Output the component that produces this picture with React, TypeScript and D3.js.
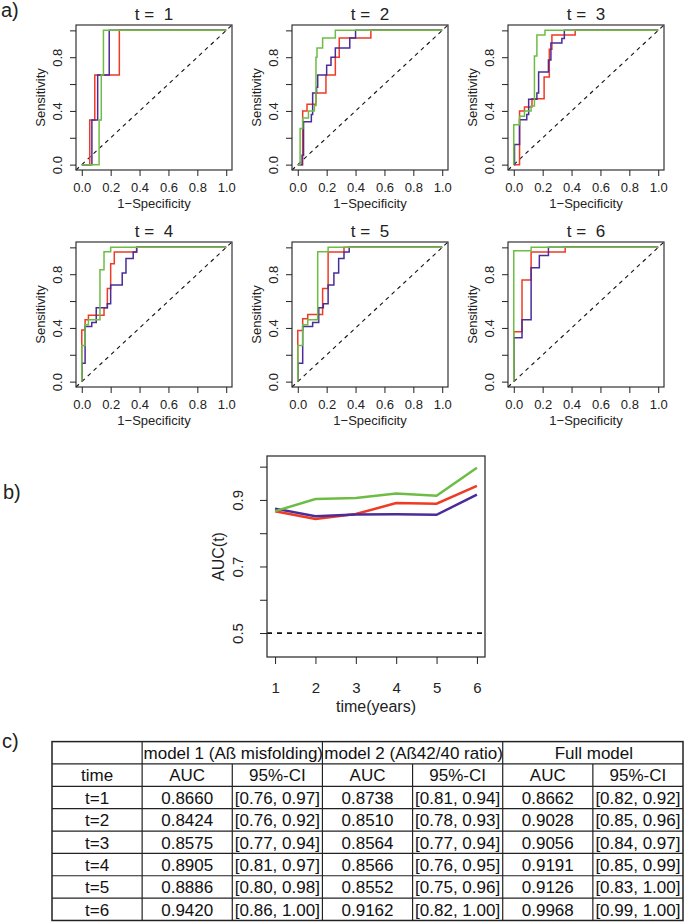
import * as d3 from "d3";
import React, { useRef, useEffect } from "react";

// time points (years)
const years = [1, 2, 3, 4, 5, 6];

// AUC(t) per model
const aucModel1 = [0.866, 0.8424, 0.8575, 0.8905, 0.8886, 0.942];
const aucModel2 = [0.8738, 0.851, 0.8564, 0.8566, 0.8552, 0.9162];
const aucFull = [0.8662, 0.9028, 0.9056, 0.9191, 0.9126, 0.9968];

const ciModel1 = ["[0.76, 0.97]", "[0.76, 0.92]", "[0.77, 0.94]", "[0.81, 0.97]", "[0.80, 0.98]", "[0.86, 1.00]"];
const ciModel2 = ["[0.81, 0.94]", "[0.78, 0.93]", "[0.77, 0.94]", "[0.76, 0.95]", "[0.75, 0.96]", "[0.82, 1.00]"];
const ciFull = ["[0.82, 0.92]", "[0.85, 0.96]", "[0.84, 0.97]", "[0.85, 0.99]", "[0.83, 1.00]", "[0.99, 1.00]"];

const modelNames = ["model 1 (Aß misfolding)", "model 2 (Aß42/40 ratio)", "Full model"];
const subHeads = ["AUC", "95%-CI"];

const rocTicks = [0, 0.2, 0.4, 0.6, 0.8, 1];
const rocLabelled = [0, 0.4, 0.8];
const aucTicks = [0.5, 0.6, 0.7, 0.8, 0.9, 1];
const aucLabelled = [0.5, 0.7, 0.9];

// ROC staircases: [1-specificity where the step happens, new sensitivity]
const rocModel1 = [
  [[0, 0], [0.055, 0.333], [0.09, 0.667], [0.26, 1], [1, 1]],
  [[0, 0], [0.034, 0.4], [0.064, 0.45], [0.126, 0.533], [0.195, 0.667], [0.26, 0.8], [0.287, 0.944], [0.506, 1], [1, 1]],
  [[0, 0], [0.04, 0.4], [0.074, 0.43], [0.126, 0.49], [0.21, 0.652], [0.246, 0.86], [0.264, 0.965], [0.425, 1], [1, 1]],
  [[0, 0], [0, 0.385], [0.023, 0.46], [0.046, 0.494], [0.154, 0.55], [0.177, 0.694], [0.2, 0.878], [0.225, 0.965], [0.38, 1], [1, 1]],
  [[0, 0], [0, 0.38], [0.034, 0.468], [0.069, 0.5], [0.172, 0.694], [0.21, 0.965], [0.32, 1], [1, 1]],
  [[0, 0], [0, 0.372], [0.057, 0.757], [0.12, 0.965], [0.356, 1], [1, 1]],
];
const rocModel2 = [
  [[0, 0], [0.07, 0.333], [0.11, 0.667], [0.19, 1], [1, 1]],
  [[0, 0], [0.03, 0.07], [0.04, 0.32], [0.094, 0.373], [0.103, 0.533], [0.13, 0.576], [0.138, 0.667], [0.2, 0.74], [0.23, 0.8], [0.26, 0.868], [0.36, 0.944], [0.4, 1], [1, 1]],
  [[0, 0], [0.005, 0.15], [0.04, 0.335], [0.09, 0.373], [0.103, 0.487], [0.16, 0.533], [0.172, 0.69], [0.24, 0.78], [0.257, 0.906], [0.333, 0.94], [0.35, 1], [1, 1]],
  [[0, 0], [0, 0.137], [0.023, 0.41], [0.069, 0.44], [0.1, 0.55], [0.177, 0.58], [0.2, 0.72], [0.28, 0.81], [0.306, 0.917], [0.356, 0.965], [0.38, 1], [1, 1]],
  [[0, 0], [0, 0.137], [0.034, 0.41], [0.103, 0.44], [0.145, 0.55], [0.177, 0.58], [0.21, 0.72], [0.25, 0.81], [0.283, 0.917], [0.32, 0.965], [0.356, 1], [1, 1]],
  [[0, 0], [0, 0.327], [0.057, 0.46], [0.12, 0.848], [0.177, 0.94], [0.24, 1], [1, 1]],
];
const rocFull = [
  [[0, 0], [0.12, 0.333], [0.135, 0.667], [0.15, 1], [1, 1]],
  [[0, 0], [0.016, 0.27], [0.034, 0.348], [0.074, 0.4], [0.115, 0.44], [0.126, 0.8], [0.133, 0.868], [0.172, 0.944], [0.26, 1], [1, 1]],
  [[0, 0], [0, 0.297], [0.04, 0.36], [0.074, 0.4], [0.12, 0.437], [0.143, 0.81], [0.16, 0.965], [0.216, 1], [1, 1]],
  [[0, 0], [0, 0.27], [0.023, 0.423], [0.046, 0.46], [0.126, 0.833], [0.154, 0.967], [0.2, 1], [1, 1]],
  [[0, 0], [0, 0.27], [0.034, 0.423], [0.069, 0.46], [0.138, 0.967], [0.21, 1], [1, 1]],
  [[0, 0], [0, 0.975], [0.12, 1], [1, 1]],
];

const W = 685, H = 924;
const FONT = "'Liberation Sans', Arial, Helvetica, sans-serif";
const INK = "#222";
const COLORS = ["#ee3b24", "#4b2c98", "#6dbd45"];

function App() {
  const ref = useRef(null);

  useEffect(() => {
    draw();
  }, []);

  const styleAxis = (sel, size) => {
    sel.select(".domain").remove();
    sel.attr("font-family", FONT).attr("font-size", size);
    sel.selectAll(".tick line").attr("stroke", INK);
    sel.selectAll(".tick text").attr("fill", INK);
  };

  const draw = () => {
    const svg = d3.select(ref.current);
    svg.selectAll("*").remove();
    svg.append("rect").attr("width", W).attr("height", H).attr("fill", "white");

    const letter = (t, x, y) =>
      svg.append("text").attr("x", x).attr("y", y).attr("font-family", FONT).attr("font-size", 20).attr("fill", INK).text(t);
    letter("a)", 1, 17);
    letter("b)", 3, 499);
    letter("c)", 2, 748);

    // ---- a) ROC curves
    const lefts = [76, 292, 508], tops = [25, 242];
    const PW = 156, PH = 145;
    years.forEach((t, i) => {
      const g = svg.append("g").attr("transform", `translate(${lefts[i % 3]},${tops[Math.floor(i / 3)]})`);
      const x = d3.scaleLinear().domain([-0.04, 1.04]).range([0, PW]);
      const y = d3.scaleLinear().domain([-0.04, 1.04]).range([PH, 0]);

      g.append("line")
        .attr("x1", x(-0.04)).attr("y1", y(-0.04)).attr("x2", x(1.04)).attr("y2", y(1.04))
        .attr("stroke", "#111").attr("stroke-width", 1.1).attr("stroke-dasharray", "4,4");

      const line = d3.line().x(d => x(d[0])).y(d => y(d[1])).curve(d3.curveStepAfter);
      [rocModel1[i], rocModel2[i], rocFull[i]].forEach((pts, k) => {
        g.append("path").attr("d", line(pts)).attr("fill", "none")
          .attr("stroke", COLORS[k]).attr("stroke-width", 1.5);
      });

      g.append("rect").attr("width", PW).attr("height", PH).attr("fill", "none").attr("stroke", "#333").attr("stroke-width", 1.2);

      const xa = g.append("g").attr("transform", `translate(0,${PH})`)
        .call(d3.axisBottom(x).tickValues(rocTicks).tickSize(6).tickFormat(d3.format(".1f")));
      styleAxis(xa, 13);
      xa.selectAll(".tick text").attr("y", 22).attr("dy", null);

      const ya = g.append("g")
        .call(d3.axisLeft(y).tickValues(rocTicks).tickSize(6)
          .tickFormat(d => (rocLabelled.includes(d) ? d3.format(".1f")(d) : "")));
      styleAxis(ya, 13);
      ya.selectAll(".tick text").attr("transform", "rotate(-90)").attr("x", 0).attr("y", -14)
        .attr("dy", null).attr("text-anchor", "middle");

      g.append("text").attr("x", PW / 2).attr("y", PH + 38).attr("text-anchor", "middle")
        .attr("font-family", FONT).attr("font-size", 13).attr("fill", INK).text("1\u2212Specificity");
      g.append("text").attr("transform", `translate(-31,${PH / 2}) rotate(-90)`).attr("text-anchor", "middle")
        .attr("font-family", FONT).attr("font-size", 13).attr("fill", INK).text("Sensitivity");
      g.append("text").attr("x", PW / 2).attr("y", -5).attr("text-anchor", "middle").style("white-space", "pre")
        .attr("font-family", FONT).attr("font-size", 17).attr("fill", INK).text("t =  " + t);
    });

    // ---- b) AUC(t)
    const bL = 267, bR = 485, bT = 456, bB = 657;
    const bx = d3.scaleLinear().domain([0.8, 6.2]).range([bL, bR]);
    const by = d3.scaleLinear().domain([0.428, 1.032]).range([bB, bT]);
    svg.append("line").attr("x1", bL).attr("x2", bR).attr("y1", by(0.5)).attr("y2", by(0.5))
      .attr("stroke", "#111").attr("stroke-width", 1.8).attr("stroke-dasharray", "5,5");
    const aucLine = d3.line().x((d, i) => bx(years[i])).y(d => by(d));
    [aucModel1, aucModel2, aucFull].forEach((vals, k) => {
      svg.append("path").attr("d", aucLine(vals)).attr("fill", "none")
        .attr("stroke", COLORS[k]).attr("stroke-width", 2.5);
    });
    svg.append("rect").attr("x", bL).attr("y", bT).attr("width", bR - bL).attr("height", bB - bT)
      .attr("fill", "none").attr("stroke", "#333").attr("stroke-width", 1.3);
    const bxa = svg.append("g").attr("transform", `translate(0,${bB})`)
      .call(d3.axisBottom(bx).tickValues(years).tickSize(7).tickFormat(d3.format("d")));
    styleAxis(bxa, 15);
    bxa.selectAll(".tick text").attr("y", 36).attr("dy", null);
    const bya = svg.append("g").attr("transform", `translate(${bL},0)`)
      .call(d3.axisLeft(by).tickValues(aucTicks).tickSize(7)
        .tickFormat(d => (aucLabelled.includes(d) ? d3.format(".1f")(d) : "")));
    styleAxis(bya, 15);
    bya.selectAll(".tick text").attr("transform", "rotate(-90)").attr("x", 0).attr("y", -24)
      .attr("dy", null).attr("text-anchor", "middle");
    svg.append("text").attr("x", (bL + bR) / 2).attr("y", 712).attr("text-anchor", "middle")
      .attr("font-family", FONT).attr("font-size", 16).attr("fill", INK).text("time(years)");
    svg.append("text").attr("transform", `translate(224,${(bT + bB) / 2}) rotate(-90)`).attr("text-anchor", "middle")
      .attr("font-family", FONT).attr("font-size", 16).attr("fill", INK).text("AUC(t)");

    // ---- c) table
    const tL = 52, tR = 683, tT = 741.6, rowH = 22.36, nRows = 8;
    const colW = (tR - tL) / 7;
    const tB = tT + rowH * nRows;
    const tg = svg.append("g").attr("font-family", FONT).attr("font-size", 17).attr("fill", "#111");
    const cell = (txt, cx, r) =>
      tg.append("text").attr("x", cx).attr("y", tT + r * rowH + 17.5).attr("text-anchor", "middle").text(txt);

    modelNames.forEach((m, k) => cell(m, tL + colW * (2 * k + 2) + 1, 0));
    cell("time", tL + colW / 2, 1);
    modelNames.forEach((m, k) => subHeads.forEach((s, j) => cell(s, tL + colW * (1 + 2 * k + j + 0.5), 1)));
    const fmt = d3.format(".4f");
    years.forEach((t, i) => {
      const r = i + 2;
      cell("t=" + t, tL + colW / 2, r);
      [[aucModel1, ciModel1], [aucModel2, ciModel2], [aucFull, ciFull]].forEach(([a, c], k) => {
        cell(fmt(a[i]), tL + colW * (1 + 2 * k + 0.5), r);
        cell(c[i], tL + colW * (1 + 2 * k + 1.5), r);
      });
    });

    const lg = svg.append("g").attr("stroke", INK).attr("stroke-width", 1.2);
    for (let r = 1; r < nRows; r++) {
      lg.append("line").attr("x1", tL).attr("x2", tR).attr("y1", tT + r * rowH).attr("y2", tT + r * rowH);
    }
    for (let c = 1; c < 7; c++) {
      const full = c % 2 === 1;
      lg.append("line").attr("x1", tL + c * colW).attr("x2", tL + c * colW)
        .attr("y1", full ? tT : tT + rowH).attr("y2", tB);
    }
    lg.append("rect").attr("x", tL).attr("y", tT).attr("width", tR - tL).attr("height", tB - tT)
      .attr("fill", "none").attr("stroke-width", 1.5);
  };

  return (
    <div>
      <svg ref={ref} width={W} height={H} style={{ position: "absolute", left: 0, top: 0, display: "block" }}></svg>
    </div>
  );
}

export default App;
